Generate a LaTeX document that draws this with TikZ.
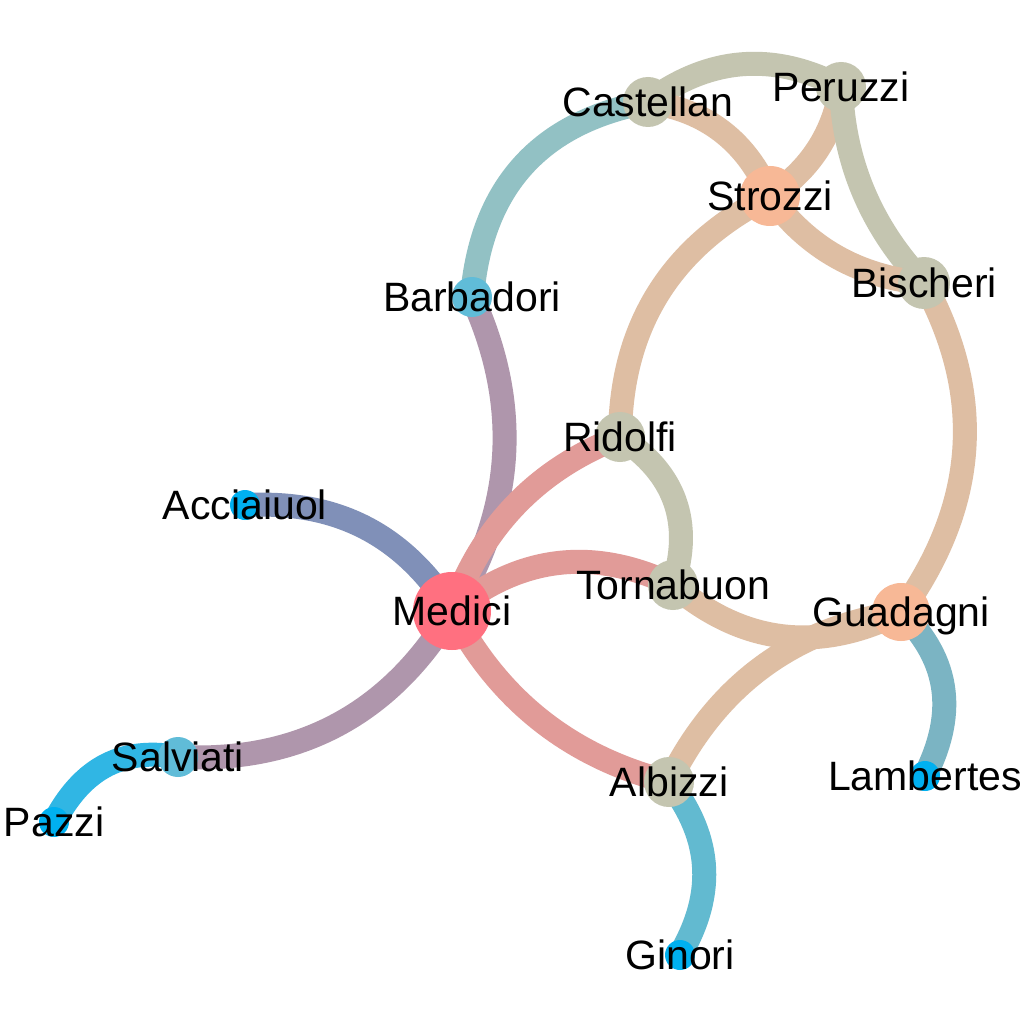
\documentclass[tikz,border=0pt]{standalone}
\usepackage{fontspec}
\setmainfont{Liberation Sans}
\usetikzlibrary{calc,backgrounds}
\definecolor{cMed}{RGB}{255,112,128}
\definecolor{cPeach}{RGB}{247,184,150}
\definecolor{cGrey}{RGB}{196,197,176}
\definecolor{cBlue}{RGB}{96,188,216}
\definecolor{cCyan}{RGB}{0,176,240}
\tikzset{
  fam/.style={circle, inner sep=0pt, minimum size=#1},
  lbl/.style={font=\fontsize{41}{41}\selectfont, text height=29.5pt, text depth=0pt, inner sep=0pt, text=black},
  band/.style={line width=24pt},
  leafend/.style={shorten >=-9pt},
}
\newcommand\famedge[4]{%
  \draw[band,#1] (#2.center) .. controls ($(#2.center)!0.6667!#4$) and ($(#3.center)!0.6667!#4$) .. (#3.center);}
\begin{document}
\begin{tikzpicture}[x=1pt,y=-1pt]
\useasboundingbox (0,0) rectangle (1024,1024);
% nodes
\node[fam=78, fill=cMed, label={[lbl]center:Medici}] (med) at (452,611) {};
\node[fam=30, fill=cCyan, label={[lbl]center:Acciaiuol}] (acc) at (245,505) {};
\node[fam=40, fill=cBlue, label={[lbl]center:Salviati}] (sal) at (178,757) {};
\node[fam=30, fill=cCyan, label={[lbl]center:Pazzi}] (paz) at (54,822) {};
\node[fam=40, fill=cBlue, label={[lbl]center:Barbadori}] (bar) at (472,297) {};
\node[fam=50, fill=cGrey, label={[lbl]center:Castellan}] (cas) at (648,102) {};
\node[fam=50, fill=cGrey, label={[lbl]center:Peruzzi}] (per) at (841,87) {};
\node[fam=60, fill=cPeach, label={[lbl]center:Strozzi}] (str) at (770,196) {};
\node[fam=52, fill=cGrey, label={[lbl]center:Bischeri}] (bis) at (924,283) {};
\node[fam=50, fill=cGrey, label={[lbl]center:Ridolfi}] (rid) at (620,437) {};
\node[fam=50, fill=cGrey, label={[lbl]center:Tornabuon}] (tor) at (673,585) {};
\node[fam=58, fill=cPeach, label={[lbl]center:Guadagni}] (gua) at (901,612) {};
\node[fam=50, fill=cGrey, label={[lbl]center:Albizzi}] (alb) at (669,782) {};
\node[fam=30, fill=cCyan, label={[lbl]center:Lambertes}] (lam) at (925,776) {};
\node[fam=30, fill=cCyan, label={[lbl]center:Ginori}] (gin) at (680,955) {};
% edges
\begin{pgfonlayer}{background}
\fill[white] (0,0) rectangle (1024,1024);
\famedge{cMed!50!cCyan,leafend}{med}{acc}{(378,494)}
\famedge{cMed!50!cBlue}{med}{sal}{(359,766)}
\famedge{cBlue!50!cCyan,leafend}{sal}{paz}{(92,742)}
\famedge{cMed!50!cBlue}{med}{bar}{(546,459)}
\famedge{cBlue!50!cGrey}{bar}{cas}{(486,132)}
\famedge{cGrey}{cas}{per}{(740,34)}
\famedge{cGrey!50!cPeach}{cas}{str}{(735,114)}
\famedge{cGrey!50!cPeach}{per}{str}{(830,157)}
\famedge{cGrey}{per}{bis}{(845,200)}
\famedge{cGrey!50!cPeach}{str}{bis}{(826,274)}
\famedge{cGrey!50!cPeach}{str}{rid}{(621,271)}
\famedge{cGrey!50!cPeach}{bis}{gua}{(1016,452)}
\famedge{cMed!50!cGrey}{med}{rid}{(496,485)}
\famedge{cMed!50!cGrey}{med}{tor}{(554,528)}
\famedge{cMed!50!cGrey}{med}{alb}{(522,745)}
\famedge{cGrey}{rid}{tor}{(703,491)}
\famedge{cGrey!50!cPeach}{tor}{gua}{(778,674)}
\famedge{cGrey!50!cPeach}{alb}{gua}{(741,636)}
\famedge{cPeach!50!cCyan,leafend}{gua}{lam}{(975,685)}
\famedge{cGrey!50!cCyan,leafend}{alb}{gin}{(735,868)}
\end{pgfonlayer}
\end{tikzpicture}
\end{document}
